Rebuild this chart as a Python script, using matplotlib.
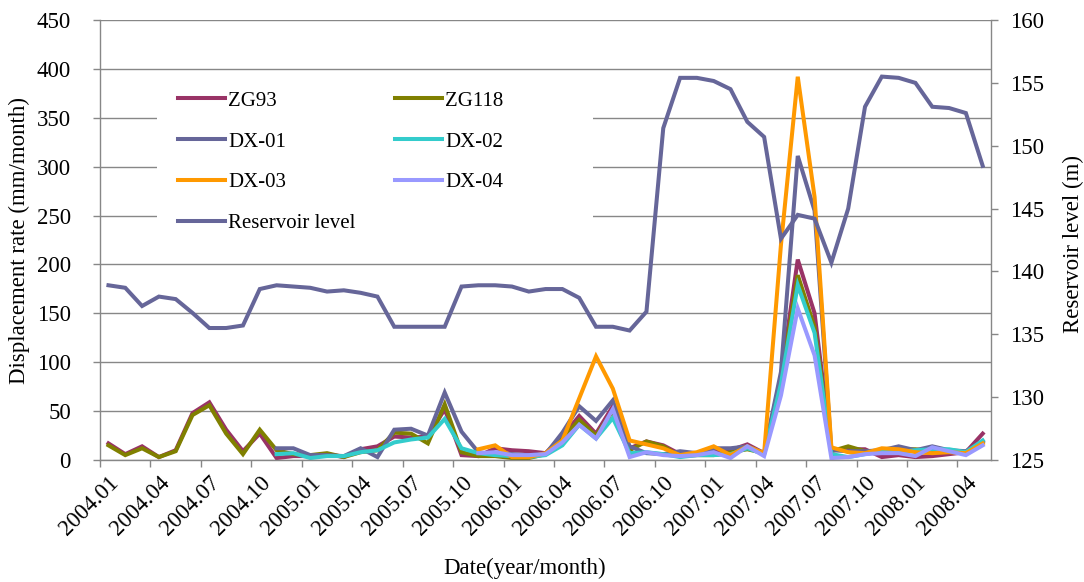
import matplotlib
matplotlib.use('Agg')
import matplotlib.pyplot as plt
import numpy as np
from matplotlib.patches import Rectangle

plt.rcParams['font.family'] = ['Liberation Serif', 'DejaVu Serif']

# monthly values, 2004.01 .. 2008.05 (53 months); None = not measured yet
tick_labels = ['2004.01', '2004.04', '2004.07', '2004.10', '2005.01', '2005.04',
               '2005.07', '2005.10', '2006.01', '2006.04', '2006.07', '2006.10',
               '2007.01', '2007.04', '2007.07', '2007.10', '2008.01', '2008.04']

zg93 = [17, 6, 14, 3, 10, 48, 59, 31, 9, 27,
        2, 4, 4, 6, 3, 11, 14, 24, 23, 24,
        52, 5, 4, 12, 10, 9, 7, 24, 45, 27,
        55, 12, 19, 15, 6, 7, 10, 10, 16, 7,
        85, 205, 150, 10, 11, 11, 3, 5, 3, 4,
        6, 8, 27]
zg118 = [15, 5, 12, 3, 9, 46, 56, 27, 6, 31,
         10, 6, 5, 7, 3, 8, 10, 28, 27, 17,
         57, 8, 4, 4, 2, 2, 6, 22, 41, 25,
         50, 10, 19, 14, 4, 5, 5, 8, 11, 7,
         82, 189, 136, 9, 14, 9, 9, 11, 11, 9,
         10, 8, 19]
dx01 = [None] * 10 + [
        12, 12, 5, 5, 4, 12, 3, 31, 32, 25,
        69, 29, 8, 6, 6, 5, 6, 28, 55, 40,
        61, 14, 7, 6, 9, 7, 12, 12, 14, 7,
        90, 311, 255, 10, 9, 9, 10, 14, 10, 14,
        10, 9, 19]
dx02 = [None] * 10 + [
        6, 7, 2, 4, 4, 8, 10, 18, 21, 23,
        42, 12, 7, 5, 4, 3, 5, 15, 36, 22,
        43, 7, 8, 6, 3, 5, 5, 6, 12, 6,
        78, 179, 130, 6, 3, 6, 9, 8, 10, 11,
        11, 8, 20]
dx03 = [None] * 22 + [
        11, 15, 3, 3, 7, 20, 63, 106,
        73, 20, 16, 12, 5, 8, 14, 5, 14, 7,
        220, 392, 269, 13, 8, 7, 12, 11, 8, 7,
        8, 7, 17]
dx04 = [None] * 22 + [
        7, 8, 5, 5, 6, 18, 36, 22,
        52, 3, 8, 5, 4, 5, 8, 2, 14, 4,
        66, 155, 107, 2, 3, 6, 7, 7, 4, 13,
        9, 5, 15]
reservoir = [138.9, 138.7, 137.25, 138.0, 137.8, 136.7, 135.5, 135.5, 135.7, 138.6,
             138.9, 138.8, 138.7, 138.4, 138.5, 138.3, 138.0, 135.6, 135.6, 135.6,
             135.6, 138.8, 138.9, 138.9, 138.8, 138.4, 138.6, 138.6, 137.9, 135.6,
             135.6, 135.3, 136.8, 151.4, 155.4, 155.4, 155.15, 154.5, 151.9, 150.7,
             142.6, 144.5, 144.2, 140.7, 145.0, 153.1, 155.5, 155.4, 155.0, 153.1,
             153.0, 152.6, 148.4]

series = [('ZG93', zg93, '#993366'),
          ('ZG118', zg118, '#808000'),
          ('DX-01', dx01, '#666699'),
          ('DX-02', dx02, '#33CCCC'),
          ('DX-03', dx03, '#FF9900'),
          ('DX-04', dx04, '#9999FF')]

gray = '#878787'
fs = 16.5
lw = 2.9

x = np.arange(len(reservoir))

fig = plt.figure(figsize=(10.84, 5.82), dpi=100)
ax = fig.add_axes([0.0923, 0.2096, 0.8220, 0.7560])
ax2 = ax.twinx()

handles = {}
for name, vals, col in series:
    h, = ax.plot(x, np.array(vals, dtype=float), color=col, lw=lw, zorder=2,
                 solid_joinstyle='miter')
    handles[name] = h
h, = ax2.plot(x, reservoir, color='#666699', lw=lw, solid_joinstyle='miter')
handles['Reservoir level'] = h

ax.set_xlim(-0.5, len(x) - 0.5)
ax.set_ylim(0, 450)
ax2.set_ylim(125, 160)

ax.set_yticks(np.arange(0, 451, 50))
ax2.set_yticks(np.arange(125, 161, 5))
ax.yaxis.grid(True, color=gray, lw=1.0)
ax.set_axisbelow(True)

ax.set_xticks(np.arange(0, len(x), 3)[:len(tick_labels)])
ax.set_xticklabels(tick_labels, rotation=45, ha='right', va='top',
                   rotation_mode='anchor')
ax.set_xticks(np.arange(-0.5, len(x) - 1, 3), minor=True)
ax.tick_params(axis='x', which='major', length=0, pad=9, labelsize=fs)
ax.tick_params(axis='x', which='minor', length=5, width=1, color=gray,
               direction='out')
ax.tick_params(axis='y', length=5, width=1, color=gray, direction='out',
               pad=16, labelsize=fs)
ax2.tick_params(axis='y', length=5, width=1, color=gray, direction='out',
                pad=9, labelsize=fs)

for s in ['top', 'right']:
    ax.spines[s].set_visible(False)
for s in ['top', 'left', 'bottom']:
    ax2.spines[s].set_visible(False)
for a, s in [(ax, 'left'), (ax, 'bottom'), (ax2, 'right')]:
    a.spines[s].set_color(gray)
    a.spines[s].set_linewidth(1.0)

ax.set_ylabel('Displacement rate (mm/month)', fontsize=fs)
ax.yaxis.set_label_coords(-0.079, 0.5)
ax2.set_ylabel('Reservoir level (m)', fontsize=fs)
ax2.yaxis.set_label_coords(1.081, 0.49)
ax.set_xlabel('Date(year/month)', fontsize=fs)
ax.xaxis.set_label_coords(0.477, -0.222)

# white box behind the legend hides the grid there
ax.add_patch(Rectangle((0.064, 0.489), 0.489, 0.386, transform=ax.transAxes,
                       facecolor='white', edgecolor='none', zorder=1))

order = ['ZG93', 'DX-01', 'DX-03', 'Reservoir level', 'ZG118', 'DX-02', 'DX-04']
ax2.legend([handles[k] for k in order], order, ncol=2, frameon=False,
           loc='upper left', bbox_to_anchor=(0.076, 0.862), borderpad=0,
           fontsize=15, handlelength=2.25, handletextpad=0.15,
           columnspacing=1.9, labelspacing=1.02)

fig.savefig('out.png', dpi=100)
